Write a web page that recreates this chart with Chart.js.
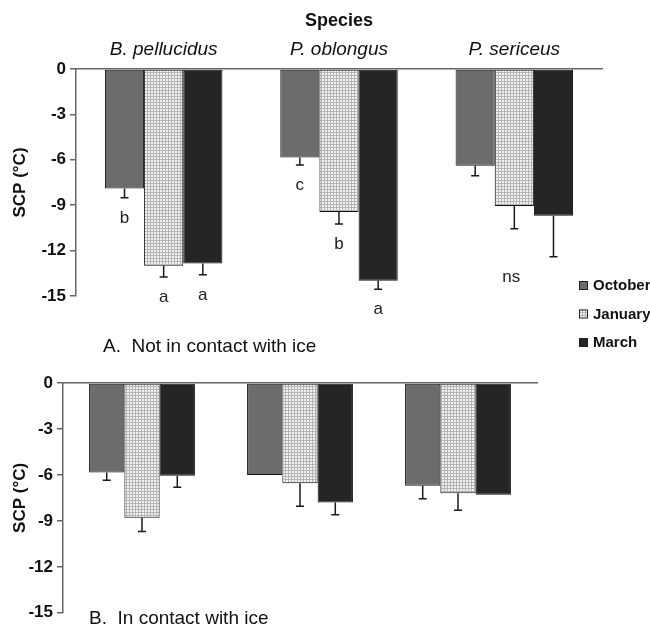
<!DOCTYPE html>
<html>
<head>
<meta charset="utf-8">
<script src="https://cdn.jsdelivr.net/npm/chart.js@4.4.1/dist/chart.umd.min.js"></script>
<style>
  html, body { margin: 0; padding: 0; background: #fff; }
  canvas { position: absolute; left: 0; }
  #topChart { top: 0; }
  #bottomChart { top: 350px; }
</style>
</head>
<body>
<canvas id="topChart" width="650" height="362"></canvas>
<canvas id="bottomChart" width="650" height="277"></canvas>
<script>
// categories and series
const species = ['B. pellucidus', 'P. oblongus', 'P. sericeus'];
const months = ['October', 'January', 'March'];
const yTicks = [0, -3, -6, -9, -12, -15];

// A. not in contact with ice (mean SCP, error, letters)
const noIceOct = [-7.9, -5.85, -6.4];
const noIceJan = [-13.0, -9.45, -9.05];
const noIceMar = [-12.85, -14.0, -9.7];
const noIceOctErr = [0.6, 0.5, 0.65];
const noIceJanErr = [0.75, 0.8, 1.5];
const noIceMarErr = [0.75, 0.55, 2.7];
const noIceOctSig = ['b', 'c', ''];
const noIceJanSig = ['a', 'b', 'ns'];
const noIceMarSig = ['a', 'a', ''];

// B. in contact with ice
const iceOct = [-5.85, -6.0, -6.7];
const iceJan = [-8.8, -6.55, -7.2];
const iceMar = [-6.05, -7.8, -7.3];
const iceOctErr = [0.5, 0, 0.85];
const iceJanErr = [0.9, 1.5, 1.1];
const iceMarErr = [0.75, 0.8, 0];

const FONT = "'Liberation Sans', Arial, sans-serif";
const octColor = '#6c6c6c';
const marColor = '#252525';

function dotPattern() {
    const c = document.createElement('canvas');
    c.width = 3; c.height = 3;
    const g = c.getContext('2d');
    g.fillStyle = '#f2f2f2';
    g.fillRect(0, 0, 3, 3);
    g.fillStyle = '#b4b4b4';
    g.fillRect(0, 0, 3, 1);
    g.fillRect(0, 0, 1, 3);
    return g.createPattern(c, 'repeat');
}
const janFill = dotPattern();

// error bars, letters, panel label and legend
const extras = {
    id: 'extras',
    afterDatasetsDraw(chart, args, opts) {
        const ctx = chart.ctx;
        const y = chart.scales.y;
        const ends = [];
        ctx.save();
        ctx.strokeStyle = '#1a1a1a';
        ctx.lineWidth = 1.5;
        chart.data.datasets.forEach((ds, di) => {
            const meta = chart.getDatasetMeta(di);
            ends[di] = [];
            ds.data.forEach((v, i) => {
                const bar = meta.data[i];
                const e = opts.errors[di][i];
                const yEnd = y.getPixelForValue(v - e);
                ends[di][i] = yEnd;
                if (e > 0) {
                    ctx.beginPath();
                    ctx.moveTo(bar.x, bar.y);
                    ctx.lineTo(bar.x, yEnd);
                    ctx.moveTo(bar.x - 4, yEnd);
                    ctx.lineTo(bar.x + 4, yEnd);
                    ctx.stroke();
                }
            });
        });
        // significance letters
        if (opts.letters) {
            ctx.fillStyle = '#222';
            ctx.font = '17px ' + FONT;
            ctx.textAlign = 'center';
            ctx.textBaseline = 'alphabetic';
            opts.letters.forEach((row, di) => {
                const meta = chart.getDatasetMeta(di);
                row.forEach((t, i) => {
                    if (!t) return;
                    let yy = ends[di][i];
                    if (t === 'ns') {
                        yy = Math.max(...ends.map(r => r[i]));
                    }
                    ctx.fillText(t, meta.data[i].x - (t === 'ns' ? 3 : 0), yy + 25);
                });
            });
        }
        // panel label
        ctx.fillStyle = '#111';
        ctx.font = '19px ' + FONT;
        ctx.textAlign = 'left';
        ctx.textBaseline = 'alphabetic';
        ctx.fillText(opts.panel, opts.panelX, opts.panelY);
        // legend
        if (opts.legend) {
            ctx.font = 'bold 15px ' + FONT;
            ctx.textBaseline = 'middle';
            chart.data.datasets.forEach((ds, di) => {
                const ly = opts.legend.y + di * opts.legend.gap;
                ctx.fillStyle = ds.backgroundColor;
                ctx.fillRect(opts.legend.x, ly - 4, 8, 8);
                ctx.strokeStyle = '#222';
                ctx.lineWidth = 1;
                ctx.strokeRect(opts.legend.x + 0.5, ly - 3.5, 8, 8);
                ctx.fillStyle = '#111';
                ctx.fillText(ds.label, opts.legend.x + 14, ly + 1);
            });
        }
        ctx.restore();
    }
};

function makeDatasets(oct, jan, mar) {
    const base = { borderColor: '#111', borderWidth: 1, borderSkipped: false,
                   categoryPercentage: 0.67, barPercentage: 1 };
    return [
        Object.assign({ label: months[0], data: oct, backgroundColor: octColor }, base),
        Object.assign({ label: months[1], data: jan, backgroundColor: janFill }, base),
        Object.assign({ label: months[2], data: mar, backgroundColor: marColor }, base)
    ];
}

function yAxis(width) {
    return {
        min: -15, max: 0,
        afterBuildTicks: s => { s.ticks = yTicks.map(v => ({ value: v })); },
        afterFit: s => { s.width = width; },
        border: { color: '#666', width: 1.5 },
        grid: { drawOnChartArea: false, color: '#666', lineWidth: 1.5, tickLength: 6 },
        ticks: { color: '#111', padding: 4, font: { family: FONT, size: 17, weight: 'bold' } },
        title: { display: true, text: 'SCP (°C)', color: '#111', padding: { top: 10, bottom: 0 },
                 font: { family: FONT, size: 17, weight: 'bold' } }
    };
}

function options(xAxis, yW, padding, extraOpts) {
    return {
        responsive: false,
        animation: false,
        layout: { padding: padding },
        plugins: { legend: { display: false }, tooltip: { enabled: false }, extras: extraOpts },
        scales: { x: xAxis, y: yAxis(yW) }
    };
}

new Chart(document.getElementById('topChart'), {
    type: 'bar',
    data: { labels: species, datasets: makeDatasets(noIceOct, noIceJan, noIceMar) },
    options: options({
        position: 'top',
        afterFit: s => { s.height = 69; },
        border: { color: '#666', width: 1.5 },
        grid: { display: false },
        ticks: { color: '#111', padding: 0, maxRotation: 0,
                 font: { family: FONT, size: 19, style: 'italic' } },
        title: { display: true, text: 'Species', color: '#111', padding: { top: 10, bottom: 0 },
                 font: { family: FONT, size: 18, weight: 'bold' } }
    }, 76, { left: 0, right: 48, top: 0, bottom: 66 }, {
        errors: [noIceOctErr, noIceJanErr, noIceMarErr],
        letters: [noIceOctSig, noIceJanSig, noIceMarSig],
        panel: 'A.  Not in contact with ice', panelX: 103, panelY: 352,
        legend: { x: 579, y: 285, gap: 28.5 }
    }),
    plugins: [extras]
});

new Chart(document.getElementById('bottomChart'), {
    type: 'bar',
    data: { labels: species, datasets: makeDatasets(iceOct, iceJan, iceMar) },
    options: options({
        position: 'top',
        afterFit: s => { s.height = 33; },
        border: { color: '#666', width: 1.5 },
        grid: { display: false },
        ticks: { display: false }
    }, 63, { left: 0, right: 113, top: 0, bottom: 10 }, {
        errors: [iceOctErr, iceJanErr, iceMarErr],
        panel: 'B.  In contact with ice', panelX: 89, panelY: 274
    }),
    plugins: [extras]
});
</script>
</body>
</html>
